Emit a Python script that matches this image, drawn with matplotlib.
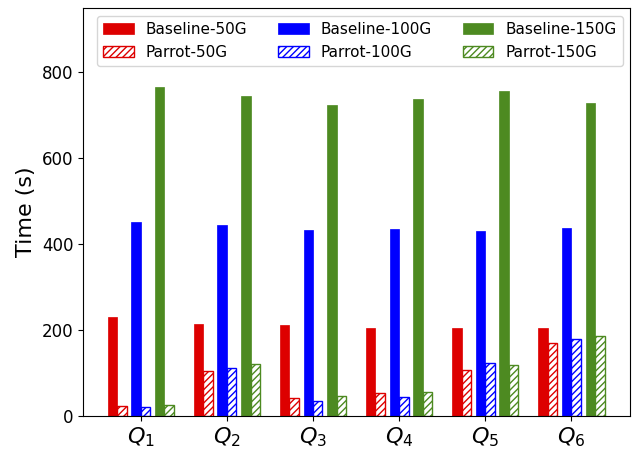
import matplotlib
matplotlib.use("Agg")
import matplotlib.pyplot as plt
import numpy as np

queries = ["$Q_1$", "$Q_2$", "$Q_3$", "$Q_4$", "$Q_5$", "$Q_6$"]
baseline_50 = [230, 215, 212, 206, 204, 205]
parrot_50 = [23, 105, 41, 54, 108, 171]
baseline_100 = [451, 445, 432, 436, 431, 437]
parrot_100 = [22, 112, 35, 45, 123, 179]
baseline_150 = [765, 745, 723, 737, 757, 728]
parrot_150 = [26, 121, 47, 55, 119, 187]

colors = ["#dd0000", "#0000ff", "#4d8a21"]
sizes = ["50G", "100G", "150G"]
baselines = [baseline_50, baseline_100, baseline_150]
parrots = [parrot_50, parrot_100, parrot_150]

plt.rcParams['hatch.linewidth'] = 1.0
fig = plt.figure(figsize=(6.33, 4.5), dpi=100)
ax = fig.add_axes([83/633, 34/450, (630-83)/633, (416-8)/450])

x = np.arange(len(queries))
w = 0.11
offsets = [-0.275, 0.0, 0.275]
handles_b, handles_p = [], []
for off, c, s, b, p in zip(offsets, colors, sizes, baselines, parrots):
    hb = ax.bar(x + off - w/2, b, w, color=c, edgecolor=c, linewidth=0.5, label=f"Baseline-{s}")
    hp = ax.bar(x + off + w/2, p, w, color="white", edgecolor=c, hatch="/////", linewidth=1.0, label=f"Parrot-{s}")
    handles_b.append(hb)
    handles_p.append(hp)

handles = []
for hb, hp in zip(handles_b, handles_p):
    handles += [hb, hp]
ax.legend(handles=handles, loc="upper center", ncol=3, fontsize=11,
          bbox_to_anchor=(0.506, 1.0), handlelength=2.0, columnspacing=2.0,
          labelspacing=0.55, borderpad=0.4, handletextpad=0.8)

ax.set_xlim(-0.67, 5.68)
ax.set_ylim(0, 950)
ax.set_xticks(x)
ax.set_xticklabels(queries, fontsize=16)
ax.set_yticks([0, 200, 400, 600, 800])
ax.tick_params(axis='y', labelsize=12)
ax.set_ylabel("Time (s)", fontsize=16)

fig.savefig("out.png", dpi=100)
